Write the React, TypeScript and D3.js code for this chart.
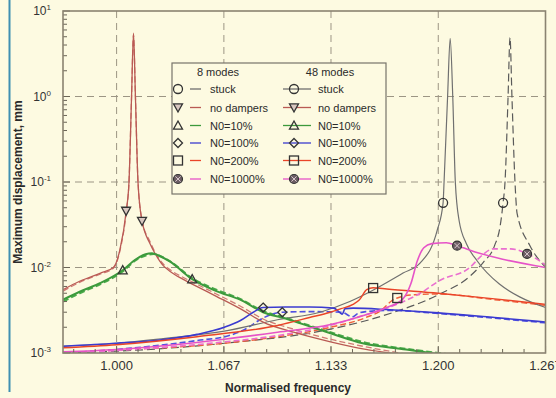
import * as d3 from "d3";

// frequency (normalised), max displacement (mm)
const stuck8: [number, number][] = [
  [0.9667, 1.2e-3], [1.0, 1.3e-3], [1.033, 1.5e-3], [1.067, 1.8e-3], [1.1, 2.45e-3],
  [1.1265, 3.0e-3], [1.145, 4.0e-3], [1.1576, 5.2e-3], [1.1781, 8.6e-3], [1.1888, 1.13e-2],
  [1.1994, 2.75e-2], [1.203, 5.7e-2], [1.2036, 0.1], [1.2058, 1.0], [1.2074, 4.8],
  [1.209, 1.0], [1.2106, 0.1], [1.213, 0.035], [1.2175, 0.019], [1.2241, 0.012],
  [1.238, 6.4e-3], [1.2509, 4.5e-3], [1.2667, 3.4e-3],
];
const stuck48: [number, number][] = [
  [0.9667, 1.0e-3], [1.0, 1.05e-3], [1.067, 1.3e-3], [1.133, 1.9e-3], [1.17, 2.9e-3],
  [1.2, 4.8e-3], [1.22, 8.0e-3], [1.228, 1.15e-2], [1.235, 1.8e-2], [1.2384, 3.0e-2],
  [1.2403, 5.7e-2], [1.2415, 0.1], [1.2434, 1.0], [1.2446, 4.9], [1.2458, 1.0],
  [1.2477, 0.1], [1.249, 4.3e-2], [1.257, 1.8e-2], [1.2667, 1.01e-2],
];
const noDampers8: [number, number][] = [
  [0.9667, 5.5e-3], [0.977, 6.9e-3], [0.99, 8.6e-3], [0.998, 1.0e-2], [1.002, 1.6e-2],
  [1.006, 4.6e-2], [1.0077, 0.1], [1.0093, 1.0], [1.0105, 5.5], [1.0117, 1.0],
  [1.0133, 0.1], [1.0158, 3.5e-2], [1.0208, 1.9e-2], [1.024, 1.45e-2], [1.029, 1.05e-2],
  [1.0333, 9.0e-3], [1.04, 7.5e-3], [1.047, 6.4e-3], [1.062, 4.6e-3], [1.0768, 3.3e-3],
  [1.0911, 2.3e-3], [1.11, 1.75e-3], [1.133, 1.35e-3], [1.155, 1.1e-3], [1.175, 0.97e-3],
];
const noDampers48: [number, number][] = [
  [0.9667, 5.3e-3], [0.977, 6.7e-3], [0.99, 8.4e-3], [0.998, 9.8e-3], [1.002, 1.55e-2],
  [1.006, 4.5e-2], [1.0077, 0.1], [1.0093, 1.0], [1.0105, 5.3], [1.0117, 1.0],
  [1.0133, 0.1], [1.0158, 3.6e-2], [1.0208, 2.0e-2], [1.024, 1.5e-2], [1.029, 1.1e-2],
  [1.0333, 9.4e-3], [1.04, 7.9e-3], [1.047, 6.8e-3], [1.062, 4.9e-3], [1.0768, 3.55e-3],
  [1.0911, 2.5e-3], [1.11, 1.9e-3], [1.133, 1.45e-3], [1.155, 1.18e-3], [1.18, 0.97e-3],
];
const n10_8: [number, number][] = [
  [0.9667, 4.2e-3], [0.977, 5.2e-3], [0.99, 6.6e-3], [1.0038, 9.3e-3], [1.012, 1.25e-2],
  [1.018, 1.43e-2], [1.022, 1.47e-2], [1.026, 1.38e-2], [1.0333, 1.17e-2], [1.047, 7.3e-3],
  [1.062, 5.3e-3], [1.0768, 4.2e-3], [1.0911, 3.0e-3], [1.106, 2.5e-3], [1.1215, 2.0e-3],
  [1.133, 1.7e-3], [1.153, 1.3e-3], [1.18, 1.1e-3], [1.195, 1.0e-3], [1.205, 0.95e-3],
];
const n10_48: [number, number][] = [
  [0.9667, 4.0e-3], [0.977, 5.0e-3], [0.99, 6.4e-3], [1.0038, 9.0e-3], [1.012, 1.22e-2],
  [1.019, 1.4e-2], [1.023, 1.44e-2], [1.027, 1.37e-2], [1.0333, 1.18e-2], [1.047, 7.5e-3],
  [1.062, 5.5e-3], [1.0768, 4.3e-3], [1.0911, 3.1e-3], [1.106, 2.55e-3], [1.1215, 2.05e-3],
  [1.133, 1.75e-3], [1.153, 1.35e-3], [1.18, 1.12e-3], [1.2, 1.0e-3], [1.21, 0.95e-3],
];
const n100_8: [number, number][] = [
  [0.9667, 1.2e-3], [1.0, 1.3e-3], [1.027, 1.42e-3], [1.05, 1.65e-3], [1.067, 2.0e-3],
  [1.077, 2.4e-3], [1.085, 3.0e-3], [1.091, 3.4e-3], [1.105, 3.45e-3], [1.12, 3.45e-3],
  [1.135, 3.35e-3], [1.139, 2.95e-3], [1.1403, 2.85e-3], [1.142, 3.3e-3], [1.147, 3.35e-3],
  [1.17, 3.2e-3], [1.2, 2.95e-3], [1.235, 2.6e-3], [1.2667, 2.3e-3],
];
const n100_48: [number, number][] = [
  [0.9667, 1.0e-3], [1.0, 1.1e-3], [1.05, 1.4e-3], [1.07, 1.6e-3], [1.08, 1.9e-3],
  [1.09, 2.5e-3], [1.098, 2.9e-3], [1.103, 3.0e-3], [1.12, 3.05e-3], [1.14, 3.0e-3],
  [1.1465, 2.65e-3], [1.15, 2.9e-3], [1.155, 3.05e-3], [1.17, 3.15e-3], [1.2, 2.9e-3],
  [1.235, 2.55e-3], [1.2667, 2.25e-3],
];
const n200_8: [number, number][] = [
  [0.9667, 1.15e-3], [1.0, 1.25e-3], [1.05, 1.55e-3], [1.1, 2.1e-3], [1.12, 2.6e-3],
  [1.1328, 3.0e-3], [1.1395, 3.3e-3], [1.147, 3.7e-3], [1.151, 4.2e-3], [1.1555, 5.5e-3],
  [1.1595, 5.8e-3], [1.168, 5.6e-3], [1.2, 5.0e-3], [1.235, 4.3e-3], [1.2667, 3.7e-3],
];
const n200_48: [number, number][] = [
  [0.9667, 1.0e-3], [1.0, 1.08e-3], [1.067, 1.3e-3], [1.1, 1.55e-3], [1.133, 2.0e-3],
  [1.155, 2.6e-3], [1.165, 3.2e-3], [1.1705, 4.0e-3], [1.1745, 4.4e-3], [1.185, 4.8e-3],
  [1.2, 4.9e-3], [1.235, 4.2e-3], [1.2667, 3.6e-3],
];
const n1000_8: [number, number][] = [
  [0.9667, 1.03e-3], [1.0, 1.1e-3], [1.067, 1.45e-3], [1.1, 1.75e-3], [1.133, 2.15e-3],
  [1.155, 2.8e-3], [1.168, 3.4e-3], [1.178, 4.3e-3], [1.183, 6.5e-3], [1.187, 1.2e-2],
  [1.191, 1.7e-2], [1.196, 1.9e-2], [1.205, 1.95e-2], [1.2117, 1.8e-2], [1.224, 1.5e-2],
  [1.24, 1.25e-2], [1.2667, 1.0e-2],
];
const n1000_48: [number, number][] = [
  [0.9667, 1.0e-3], [1.0, 1.07e-3], [1.067, 1.35e-3], [1.1, 1.6e-3], [1.1328, 2.1e-3],
  [1.1534, 2.75e-3], [1.168, 3.35e-3], [1.1888, 5.0e-3], [1.2012, 7.1e-3], [1.2199, 1.01e-2],
  [1.2261, 1.33e-2], [1.2342, 1.65e-2], [1.245, 1.65e-2], [1.2552, 1.45e-2], [1.2667, 1.07e-2],
];

const legendLabels = ["stuck", "no dampers", "N0=10%", "N0=100%", "N0=200%", "N0=1000%"];
const xTickValues = [1.0, 1.0667, 1.1333, 1.2, 1.2667];
const xTickLabels = ["1.000", "1.067", "1.133", "1.200", "1.267"];
const yDecades = [-3, -2, -1, 0, 1];

// marker positions [freq, disp] per series
const markers8 = [[1.203, 5.7e-2], [1.0059, 4.6e-2], [1.0038, 9.3e-3], [1.0911, 3.4e-3], [1.1595, 5.75e-3], [1.2117, 1.8e-2]];
const markers48 = [[1.2403, 5.7e-2], [1.0158, 3.5e-2], [1.047, 7.3e-3], [1.103, 3.0e-3], [1.1745, 4.4e-3], [1.2552, 1.44e-2]];

const W = 556, H = 398;
const M = { left: 63, right: 545.5, top: 11, bottom: 353 };
const BG = "#fdfae1";
const FONT = "'Liberation Sans', Arial, sans-serif";

const colors = ["#707070", "#b95a54", "#3c9a3c", "#3b3bd0", "#ea4428", "#e653c8"];
const colors48 = ["#5a5a5a", "#cf7a74", "#4aaa4a", "#5050e0", "#f0603c", "#ea6fd0"];
const widths = [1.2, 1.3, 2, 1.6, 1.4, 1.6];
const series8 = [stuck8, noDampers8, n10_8, n100_8, n200_8, n1000_8];
const series48 = [stuck48, noDampers48, n10_48, n100_48, n200_48, n1000_48];

function Marker({ kind, x, y }: { kind: number; x: number; y: number }) {
  const s = 4.5;
  const st = { stroke: "#333", strokeWidth: 1.3, fill: "none" };
  if (kind === 0) return <circle cx={x} cy={y} r={s} {...st} />;
  if (kind === 1)
    return <path d={`M${x - s},${y - s * 0.8}L${x + s},${y - s * 0.8}L${x},${y + s}Z`} {...st} fill="#d9c7c0" />;
  if (kind === 2)
    return <path d={`M${x - s},${y + s * 0.8}L${x + s},${y + s * 0.8}L${x},${y - s}Z`} {...st} />;
  if (kind === 3)
    return <path d={`M${x},${y - s}L${x + s},${y}L${x},${y + s}L${x - s},${y}Z`} {...st} />;
  if (kind === 4) return <rect x={x - s} y={y - s} width={2 * s} height={2 * s} {...st} />;
  return (
    <g>
      <circle cx={x} cy={y} r={s} stroke="#333" strokeWidth={1.2} fill="#6e5f66" />
      <path d={`M${x - 2.6},${y - 2.6}L${x + 2.6},${y + 2.6}M${x + 2.6},${y - 2.6}L${x - 2.6},${y + 2.6}`} stroke="#d8c6cc" strokeWidth={1} />
    </g>
  );
}

export default function App() {
  const x = d3.scaleLinear().domain([0.96667, 1.26667]).range([M.left, M.right]);
  const y = d3.scaleLog().domain([1e-3, 10]).range([M.bottom, M.top]);
  const line = d3
    .line<[number, number]>()
    .x((d) => x(d[0]))
    .y((d) => y(d[1]))
    .curve(d3.curveMonotoneX);

  const xMinor = d3.range(-2, 21).filter((k) => k % 5 !== 0).map((k) => 1 + k / 75);
  const yMinor = d3.range(-3, 1).flatMap((d) => d3.range(2, 10).map((k) => k * Math.pow(10, d)));

  const legendRows = [89, 107.5, 125.5, 143, 160.5, 179];

  return (
    <svg width={W} height={H} style={{ position: "absolute", left: 0, top: 0 }} fontFamily={FONT}>
      <defs>
        <clipPath id="plot">
          <rect x={M.left} y={M.top} width={M.right - M.left} height={M.bottom - M.top} />
        </clipPath>
      </defs>
      <rect width={W} height={H} fill={BG} />
      <line x1={9.5} x2={9.5} y1={0} y2={392} stroke="#3f8fb2" strokeWidth={2} />

      {/* grid */}
      <g stroke="#9c9584" strokeWidth={1} strokeDasharray="7,5">
        {xTickValues.slice(0, 4).map((v) => (
          <line key={v} x1={x(v)} x2={x(v)} y1={M.top} y2={M.bottom} />
        ))}
        {yDecades.slice(1, 4).map((d) => (
          <line key={d} x1={M.left} x2={M.right} y1={y(Math.pow(10, d))} y2={y(Math.pow(10, d))} />
        ))}
      </g>

      {/* curves */}
      <g clipPath="url(#plot)" fill="none">
        {series48.map((s, i) => (
          <path key={"b" + i} d={line(s) ?? ""} stroke={colors48[i]} strokeWidth={widths[i]}
            strokeDasharray={i === 0 ? "8,4" : "6,3"} />
        ))}
        {series8.map((s, i) => (
          <path key={"a" + i} d={line(s) ?? ""} stroke={colors[i]} strokeWidth={widths[i]} />
        ))}
      </g>

      {/* markers */}
      {markers8.map((m, i) => <Marker key={"m8" + i} kind={i} x={x(m[0])} y={y(m[1])} />)}
      {markers48.map((m, i) => <Marker key={"m48" + i} kind={i} x={x(m[0])} y={y(m[1])} />)}

      {/* ticks */}
      <g stroke="#6b6556" strokeWidth={1}>
        {xTickValues.map((v) => (
          <line key={v} x1={x(v)} x2={x(v)} y1={M.bottom} y2={M.bottom - 7} />
        ))}
        {xMinor.map((v) => (
          <line key={v} x1={x(v)} x2={x(v)} y1={M.bottom} y2={M.bottom - 4} />
        ))}
        {yDecades.map((d) => (
          <line key={d} x1={M.left} x2={M.left + 7} y1={y(Math.pow(10, d))} y2={y(Math.pow(10, d))} />
        ))}
        {yMinor.map((v) => (
          <line key={v} x1={M.left} x2={M.left + 4} y1={y(v)} y2={y(v)} />
        ))}
      </g>
      <rect x={M.left} y={M.top} width={M.right - M.left} height={M.bottom - M.top}
        fill="none" stroke="#8a8371" strokeWidth={1.6} />

      {/* tick labels */}
      {xTickValues.map((v, i) => (
        <text key={v} x={x(v)} y={370} textAnchor="middle" fontSize={13} fill="#333">
          {xTickLabels[i]}
        </text>
      ))}
      {yDecades.map((d) => (
        <text key={d} x={51} y={y(Math.pow(10, d)) + 4} textAnchor="end" fontSize={12} fill="#333">
          10<tspan dy={-5} fontSize={8}>{d}</tspan>
        </text>
      ))}

      {/* axis titles */}
      <text x={288} y={392} textAnchor="middle" fontSize={12} fontWeight="bold" fill="#2a2a2a">
        Normalised frequency
      </text>
      <text transform={`translate(22,${(M.top + M.bottom) / 2}) rotate(-90)`} textAnchor="middle"
        fontSize={12} fontWeight="bold" fill="#2a2a2a">
        Maximum displacement, mm
      </text>

      {/* legend */}
      <rect x={172} y={63} width={214} height={131} fill={BG} stroke="#77736a" strokeWidth={1.2} />
      <text x={218} y={76} textAnchor="middle" fontSize={11} fill="#2a2a2a">8 modes</text>
      <text x={330} y={76} textAnchor="middle" fontSize={11} fill="#2a2a2a">48 modes</text>
      {legendLabels.map((label, i) => (
        <g key={label}>
          <line x1={190} x2={201} y1={legendRows[i]} y2={legendRows[i]} stroke={colors[i]} strokeWidth={1.3} />
          <Marker kind={i} x={178} y={legendRows[i]} />
          <text x={210} y={legendRows[i] + 4} fontSize={11} fill="#2a2a2a">{label}</text>
          <line x1={283} x2={311} y1={legendRows[i]} y2={legendRows[i]} stroke={colors[i]} strokeWidth={1.3} />
          <Marker kind={i} x={294} y={legendRows[i]} />
          <text x={318} y={legendRows[i] + 4} fontSize={11} fill="#2a2a2a">{label}</text>
        </g>
      ))}
    </svg>
  );
}
